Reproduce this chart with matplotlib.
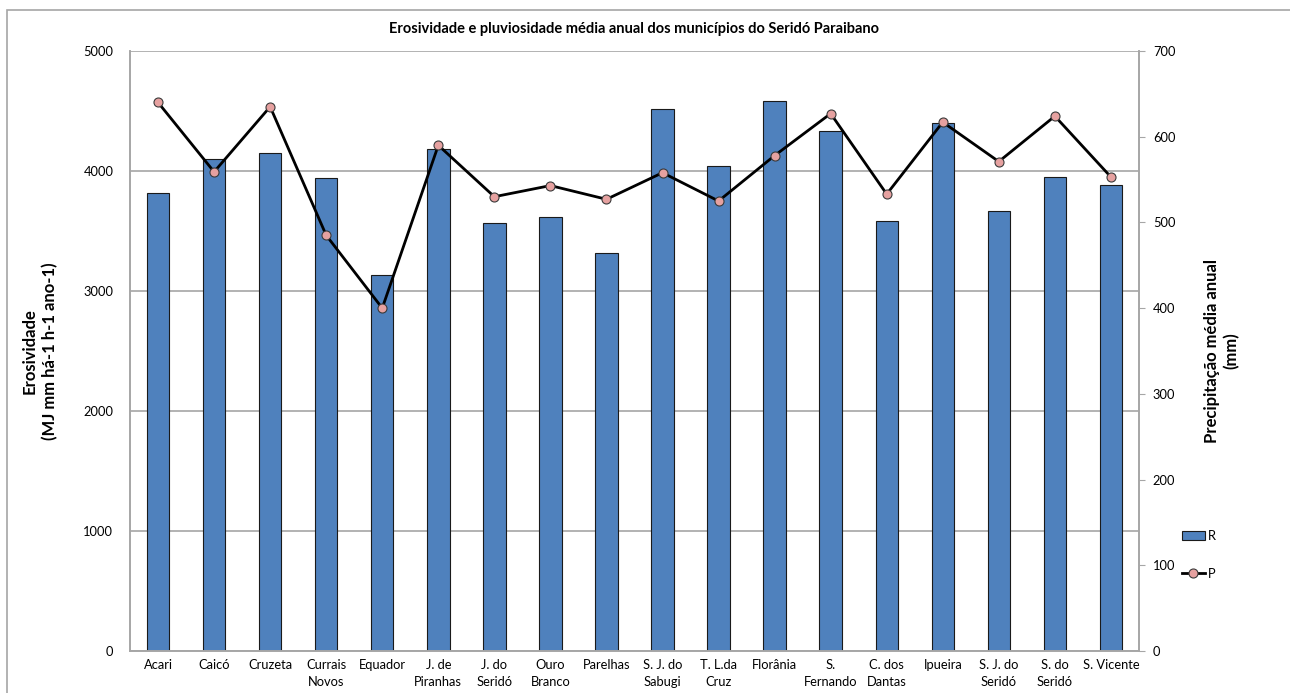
import matplotlib.pyplot as plt
import numpy as np
from matplotlib.patches import Rectangle

plt.rcParams['font.family'] = ['Lato', 'DejaVu Sans']

municipios = ["Acari", "Caicó", "Cruzeta", "Currais\nNovos", "Equador",
              "J. de\nPiranhas", "J. do\nSeridó", "Ouro\nBranco", "Parelhas",
              "S. J. do\nSabugi", "T. L.da\nCruz", "Florânia", "S.\nFernando",
              "C. dos\nDantas", "Ipueira", "S. J. do\nSeridó", "S. do\nSeridó",
              "S. Vicente"]

# erosividade R (MJ mm ha-1 h-1 ano-1)
erosividade = [3815, 4098, 4148, 3940, 3130, 4182, 3570, 3615, 3318,
               4515, 4045, 4585, 4335, 3585, 4400, 3667, 3947, 3880]

# precipitação média anual P (mm)
precipitacao = [640, 559, 635, 485, 400, 590, 530, 543, 527,
                558, 525, 578, 627, 533, 617, 571, 624, 553]

grid_col = '#A6A6A6'

fig = plt.figure(figsize=(12.9, 6.93), dpi=100)
ax = fig.add_axes([0.1008, 0.0606, 0.7821, 0.8658])
ax2 = ax.twinx()

x = np.arange(len(municipios))
ax.bar(x, erosividade, width=0.4, color='#4F81BD', edgecolor='#1a1a1a',
       linewidth=0.8, label='R', zorder=2)
ax.set_ylim(0, 5000)
ax.set_xlim(-0.5, len(municipios) - 0.5)
ax.set_yticks(np.arange(0, 5001, 1000))
ax.yaxis.grid(True, color=grid_col, linewidth=1.2, zorder=0)
ax.set_axisbelow(True)
ax.set_xticks(x)
ax.set_xticklabels(municipios, fontsize=9.3, linespacing=1.45)
ax.tick_params(axis='x', length=0, pad=6)
ax.tick_params(axis='y', length=0, labelsize=9.3, pad=12)

ax2.plot(x, precipitacao, color='black', linewidth=2, marker='o',
         markersize=6.5, markerfacecolor='#E6A1A0', markeredgecolor='#3a3a3a',
         markeredgewidth=0.8, label='P', zorder=3)
ax2.set_ylim(0, 700)
ax2.set_yticks(np.arange(0, 701, 100))
ax2.tick_params(axis='y', length=4, color=grid_col, labelsize=9.3, pad=6)

for a in (ax, ax2):
    a.spines['top'].set_visible(False)
    for s in ('left', 'right', 'bottom'):
        a.spines[s].set_color(grid_col)
        a.spines[s].set_linewidth(1.2)

ax.set_ylabel('Erosividade\n(MJ mm há-1 h-1 ano-1)', fontsize=12,
              fontweight='bold', linespacing=1.3)
ax2.set_ylabel('Precipitação média anual\n(mm)', fontsize=12,
               fontweight='bold', rotation=90, linespacing=1.3)
ax.yaxis.set_label_coords(-0.071, 0.5)
ax2.yaxis.set_label_coords(1.064, 0.5)

fig.text(0.5 * (0.1008 + 0.8829), 1 - 29 / 693,
         'Erosividade e pluviosidade média anual dos municípios do Seridó Paraibano',
         ha='center', va='center', fontsize=10.5, fontweight='bold')

# legend entries
h1, l1 = ax.get_legend_handles_labels()
h2, l2 = ax2.get_legend_handles_labels()
fig.legend(h1 + h2, l1 + l2, loc='center left',
           bbox_to_anchor=(1170 / 1290, 1 - 555 / 693), frameon=False,
           fontsize=9.3, labelspacing=2.0, handlelength=1.8, handletextpad=0.2)

# outer chart border
fig.patches.append(Rectangle((7 / 1290, -0.1), 1.2, 1 - 10 / 693 + 0.1,
                             transform=fig.transFigure, fill=False,
                             edgecolor=grid_col, linewidth=1.2))

fig.savefig('out.png', dpi=100)
